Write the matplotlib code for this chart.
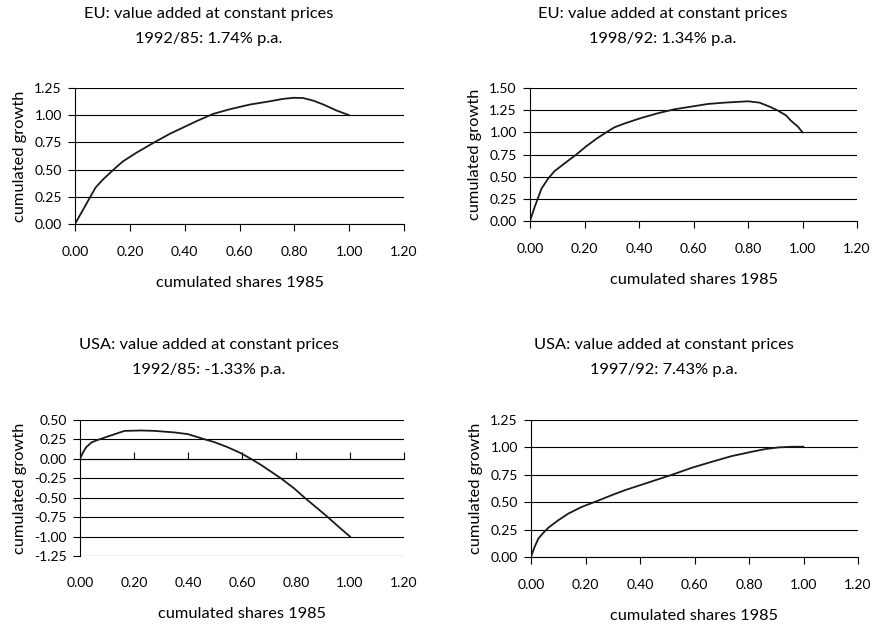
"""Cumulated growth vs. cumulated shares 1985 -- EU and USA, value added at constant prices."""
import matplotlib
matplotlib.use("Agg")
import matplotlib.pyplot as plt

plt.rcParams["font.family"] = ["Lato", "DejaVu Sans"]

W, H = 875, 624

# --- data ---
eu1_x = [0.0, 0.075, 0.102, 0.145, 0.175, 0.224, 0.291, 0.346, 0.443, 0.504, 0.565,
         0.638, 0.711, 0.759, 0.798, 0.832, 0.869, 0.906, 0.954, 1.0]
eu1_y = [0.0, 0.335, 0.409, 0.51, 0.576, 0.655, 0.753, 0.829, 0.945, 1.012, 1.055,
         1.098, 1.128, 1.15, 1.16, 1.158, 1.134, 1.098, 1.043, 1.0]

eu2_x = [0.0, 0.017, 0.042, 0.066, 0.09, 0.133, 0.17, 0.207, 0.243, 0.28, 0.31, 0.347, 0.408,
         0.469, 0.53, 0.592, 0.653, 0.714, 0.80, 0.842, 0.879, 0.91, 0.94, 0.958, 0.983, 1.0]
eu2_y = [0.0, 0.157, 0.364, 0.476, 0.5625, 0.664, 0.75, 0.844, 0.926, 1.0, 1.057, 1.10, 1.162,
         1.215, 1.26, 1.29, 1.32, 1.335, 1.35, 1.335, 1.29, 1.245, 1.19, 1.13, 1.065, 1.0]

us1_x = [0.0, 0.011, 0.023, 0.042, 0.06, 0.103, 0.165, 0.227, 0.276, 0.35, 0.40, 0.448, 0.498,
         0.547, 0.596, 0.633, 0.67, 0.744, 0.793, 0.83, 0.873, 0.916, 0.96, 1.0]
us1_y = [0.0, 0.082, 0.15, 0.21, 0.236, 0.288, 0.36, 0.365, 0.36, 0.34, 0.318, 0.266, 0.215,
         0.15, 0.073, 0.0, -0.077, -0.25, -0.38, -0.494, -0.619, -0.744, -0.881, -1.0]

us2_x = [0.0, 0.012, 0.027, 0.045, 0.064, 0.10, 0.137, 0.186, 0.241, 0.296, 0.345, 0.431,
         0.517, 0.59, 0.664, 0.737, 0.81, 0.86, 0.909, 0.958, 1.0]
us2_y = [0.0, 0.085, 0.168, 0.22, 0.268, 0.335, 0.396, 0.457, 0.509, 0.564, 0.61, 0.68,
         0.75, 0.814, 0.869, 0.921, 0.96, 0.985, 1.0, 1.006, 1.006]

x_ticks = [0.0, 0.2, 0.4, 0.6, 0.8, 1.0, 1.2]
y_ticks_eu1 = [0.0, 0.25, 0.5, 0.75, 1.0, 1.25]
y_ticks_eu2 = [0.0, 0.25, 0.5, 0.75, 1.0, 1.25, 1.5]
y_ticks_us1 = [-1.25, -1.0, -0.75, -0.5, -0.25, 0.0, 0.25, 0.5]
y_ticks_us2 = [0.0, 0.25, 0.5, 0.75, 1.0, 1.25]

titles = [
    ("EU: value added at constant prices", "1992/85: 1.74% p.a."),
    ("EU: value added at constant prices", "1998/92: 1.34% p.a."),
    ("USA: value added at constant prices", "1992/85: -1.33% p.a."),
    ("USA: value added at constant prices", "1997/92: 7.43% p.a."),
]

# axes boxes in pixels: left, right, top, bottom ; title centre x, title top y
panels = [
    (eu1_x, eu1_y, y_ticks_eu1, (75, 404, 88, 224), (209, 14)),
    (eu2_x, eu2_y, y_ticks_eu2, (530, 857, 88, 221), (663, 14)),
    (us1_x, us1_y, y_ticks_us1, (80, 404, 420, 556), (209, 345)),
    (us2_x, us2_y, y_ticks_us2, (531, 858, 420, 557), (664, 345)),
]

FS = 10      # tick labels
FL = 11.8    # titles and axis labels
fig = plt.figure(figsize=(W / 100, H / 100), dpi=100)

for (xs, ys, yt, (l, r, t, b), (tx, ty)), (t1, t2) in zip(panels, titles):
    ax = fig.add_axes([l / W, 1 - b / H, (r - l) / W, (b - t) / H])
    ax.set_xlim(0, 1.2)
    ax.set_ylim(yt[0], yt[-1])
    for v in yt:
        ax.axhline(v, color="black", lw=0.8, zorder=1)
    ax.plot(xs, ys, color="#1a1a1a", lw=1.3, zorder=3, solid_joinstyle="round")

    ax.set_yticks(yt)
    ax.set_yticklabels([f"{v:.2f}" for v in yt], fontsize=FS)
    ax.set_xticks(x_ticks)
    ax.set_xticklabels([f"{v:.2f}" for v in x_ticks], fontsize=FS)
    for s in ("top", "right"):
        ax.spines[s].set_visible(False)
    ax.spines["left"].set_linewidth(0.8)
    ax.tick_params(axis="y", length=5, width=0.8, pad=4.5)

    if yt[0] < 0:
        # x axis crosses at zero, labels stay at the bottom
        ax.spines["bottom"].set_visible(False)
        ax.tick_params(axis="x", length=0, pad=15)
        z = (0 - yt[0]) / (yt[-1] - yt[0])
        sec = ax.secondary_xaxis(z)
        sec.set_xticks(x_ticks)
        sec.set_xticklabels([])
        sec.spines["bottom"].set_visible(False)
        sec.tick_params(axis="x", length=5, width=0.8, direction="out")
    else:
        ax.spines["bottom"].set_linewidth(0.8)
        ax.tick_params(axis="x", length=5, width=0.8, pad=11)

    ax.set_xlabel("cumulated shares 1985", fontsize=FL, labelpad=13)
    ax.set_ylabel("cumulated growth", fontsize=FL, labelpad=5)

    fig.text(tx / W, 1 - ty / H, t1, ha="center", va="center", fontsize=FL)
    fig.text(tx / W, 1 - (ty + 25) / H, t2, ha="center", va="center", fontsize=FL)

fig.savefig("out.png", dpi=100)
